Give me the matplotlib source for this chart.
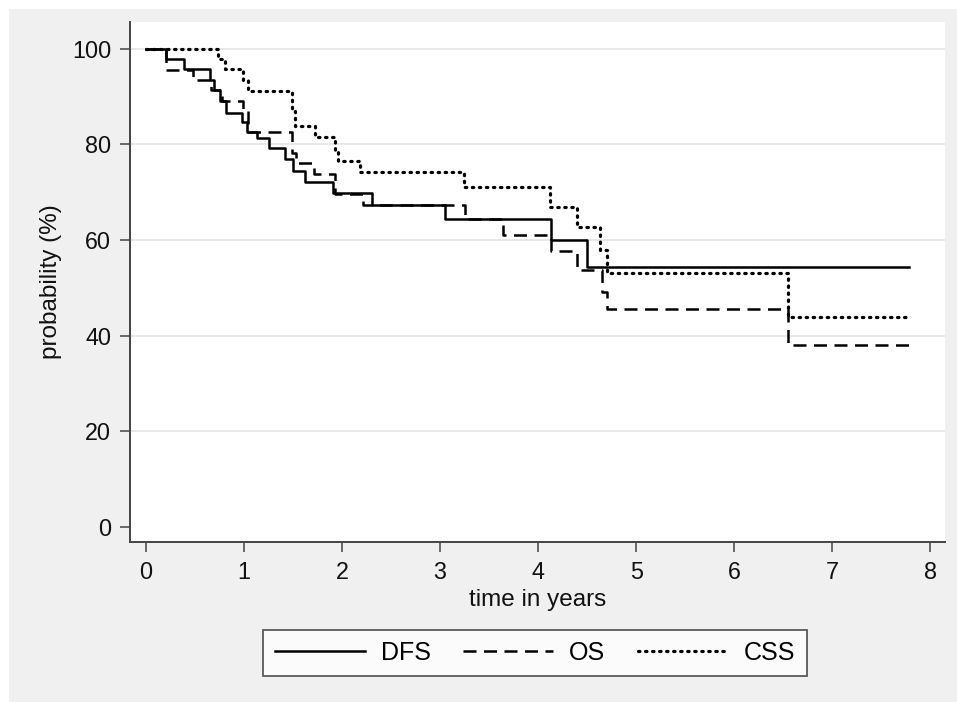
import matplotlib
matplotlib.use("Agg")
import matplotlib.pyplot as plt
from matplotlib.patches import Rectangle

# ---- data ----
dfs_t = [0, 0.20, 0.39, 0.65, 0.69, 0.76, 0.82, 0.98, 1.03, 1.13, 1.25, 1.42, 1.50, 1.62, 1.91, 2.31, 3.05, 4.13, 4.50, 7.78]
dfs_s = [100, 97.8, 95.7, 93.5, 91.3, 89.1, 86.5, 84.6, 82.6, 81.4, 79.3, 76.9, 74.5, 72.2, 69.9, 67.3, 64.4, 60.0, 54.4, 54.4]

os_t = [0, 0.20, 0.48, 0.66, 0.78, 0.99, 1.04, 1.49, 1.53, 1.71, 1.93, 2.21, 3.25, 3.64, 4.13, 4.40, 4.65, 4.70, 6.55, 7.80]
os_s = [100, 95.6, 93.5, 91.3, 89.1, 86.9, 82.6, 78.3, 76.1, 73.9, 69.6, 67.4, 64.4, 61.1, 57.8, 53.8, 49.2, 45.5, 38.0, 38.0]

css_t = [0, 0.73, 0.81, 0.99, 1.04, 1.49, 1.52, 1.72, 1.93, 1.96, 2.18, 3.24, 4.12, 4.40, 4.63, 4.70, 6.55, 7.78]
css_s = [100, 97.8, 95.7, 93.5, 91.1, 86.9, 83.8, 81.6, 78.9, 76.6, 74.3, 71.1, 67.0, 62.8, 58.0, 53.1, 44.0, 44.0]

labels = ["DFS", "OS", "CSS"]
x_ticks = [0, 1, 2, 3, 4, 5, 6, 7, 8]
y_ticks = [0, 20, 40, 60, 80, 100]

plt.rcParams['font.family'] = ['Liberation Sans', 'DejaVu Sans']

W, H = 957, 702
fig = plt.figure(figsize=(W / 100, H / 100), dpi=100)
fig.patch.set_facecolor("white")
fig.patches.append(Rectangle((9 / W, 0), 1 - 9 / W, 1 - 9 / H, transform=fig.transFigure,
                             facecolor="#f0f0f0", edgecolor="none", zorder=-10))

ax = fig.add_axes([130 / W, 1 - 542 / H, (945 - 130) / W, (542 - 22) / H])
ax.set_facecolor("white")

lw = 1.8
ax.plot(dfs_t, dfs_s, drawstyle="steps-post", color="black", lw=lw, label=labels[0])
ax.plot(os_t, os_s, drawstyle="steps-post", color="black", lw=lw, label=labels[1],
        linestyle=(0, (5.2, 3.0)))
ax.plot(css_t, css_s, drawstyle="steps-post", color="black", lw=2.3, label=labels[2],
        linestyle=(0, (0.45, 1.75)), dash_capstyle="round")

ax.set_xlim(-0.163, 8.15)
ax.set_ylim(-3.14, 105.6)
ax.set_xticks(x_ticks)
ax.set_yticks(y_ticks)
ax.yaxis.grid(True, color="#e6e6e6", lw=1.3)
ax.set_axisbelow(True)
ax.yaxis.get_gridlines()[0].set_visible(False)

for s in ["top", "right"]:
    ax.spines[s].set_visible(False)
for s in ["left", "bottom"]:
    ax.spines[s].set_color("#444444")
    ax.spines[s].set_linewidth(1.4)

ax.tick_params(axis="both", direction="out", length=7.5, width=1.1, color="#444444",
               labelsize=16.8, labelcolor="#111111", pad=6)
ax.tick_params(axis="x", pad=6)

ax.set_xlabel("time in years", fontsize=17.5, labelpad=4, color="#111111")
ax.set_ylabel("probability (%)", fontsize=17.5, labelpad=7, color="#111111")

leg = fig.legend(loc="center", bbox_to_anchor=(535 / W, 1 - 653 / H), ncol=3,
                 fontsize=18, handlelength=3.6, handletextpad=0.64, columnspacing=1.3,
                 borderpad=0.45, fancybox=False, frameon=True)
leg.get_frame().set_edgecolor("#333333")
leg.get_frame().set_linewidth(1.3)
leg.get_frame().set_facecolor("white")

fig.savefig("out.png", dpi=100, facecolor=fig.get_facecolor())
